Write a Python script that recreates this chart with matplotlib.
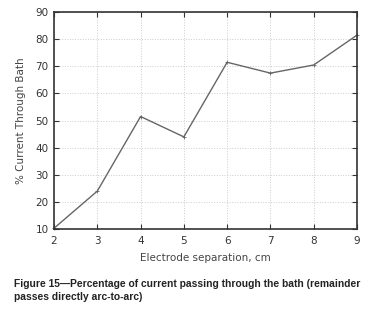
import matplotlib
matplotlib.use("Agg")
import matplotlib.pyplot as plt

separation_cm = [2, 3, 4, 5, 6, 7, 8, 9]
pct_current_bath = [10.3, 24.0, 51.5, 44.0, 71.5, 67.5, 70.5, 81.5]
x_ticks = [2, 3, 4, 5, 6, 7, 8, 9]
y_ticks = [10, 20, 30, 40, 50, 60, 70, 80, 90]

fig = plt.figure(figsize=(3.75, 3.10), dpi=100)
ax = fig.add_axes([0.144, 0.261, 0.808, 0.70])

ax.plot(separation_cm, pct_current_bath, color="#666666", lw=1.0,
        marker="+", ms=3, mew=0.6, clip_on=False)

ax.set_xlim(2, 9)
ax.set_ylim(10, 90)
ax.set_xticks(x_ticks)
ax.set_yticks(y_ticks)
ax.grid(True, color="#cccccc", linestyle=":", linewidth=0.7)
ax.tick_params(direction="in", top=True, right=True, length=3.5,
               width=0.8, labelsize=7.5, colors="#333333")
ax.tick_params(axis="x", pad=5)
ax.tick_params(axis="y", pad=4)
for s in ax.spines.values():
    s.set_color("#333333")
    s.set_linewidth(1.2)

ax.set_xlabel("Electrode separation, cm", fontsize=7.5, color="#444444", labelpad=5)
ax.set_ylabel("% Current Through Bath", fontsize=7.5, color="#444444", labelpad=7)

fig.text(0.037, 0.064, "Figure 15\u2014Percentage of current passing through the bath (remainder\npasses directly arc-to-arc)",
         fontsize=7.4, fontweight="bold", color="#222222", va="center", ha="left",
         family=["Liberation Sans", "DejaVu Sans"], linespacing=1.4)

fig.savefig("out.png", dpi=100)
